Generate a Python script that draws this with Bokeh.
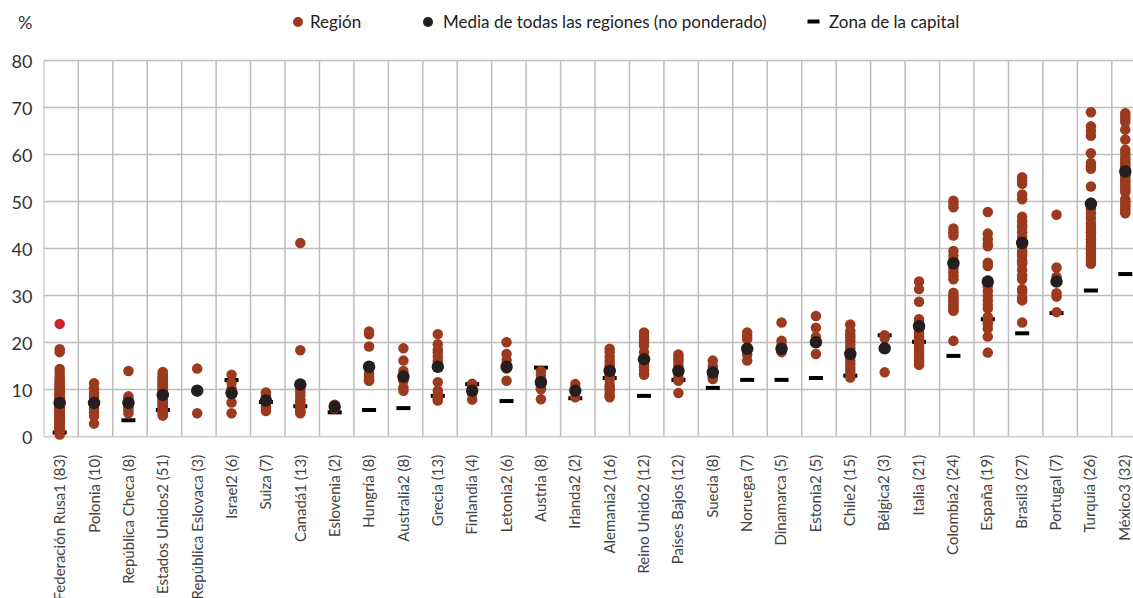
import math
from bokeh.plotting import figure
from bokeh.models import (Range1d, FixedTicker, Grid, Legend, LegendItem, Span)
from bokeh.core.properties import value
from bokeh.embed import file_html
from bokeh.resources import INLINE

countries = ["Federación Rusa1 (83)", "Polonia (10)", "República Checa (8)", "Estados Unidos2 (51)",
             "República Eslovaca (3)", "Israel2 (6)", "Suiza (7)", "Canadá1 (13)", "Eslovenia (2)",
             "Hungría (8)", "Australia2 (8)", "Grecia (13)", "Finlandia (4)", "Letonia2 (6)",
             "Austria (8)", "Irlanda2 (2)", "Alemania2 (16)", "Reino Unido2 (12)", "Países Bajos (12)",
             "Suecia (8)", "Noruega (7)", "Dinamarca (5)", "Estonia2 (5)", "Chile2 (15)",
             "Bélgica2 (3)", "Italia (21)", "Colombia2 (24)", "España (19)", "Brasil3 (27)",
             "Portugal (7)", "Turquía (26)", "México3 (32)"]

region_values = [
    [18.6, 18.0, 14.4, 13.6, 12.8, 12.2, 11.8, 11.4, 11.0, 10.8, 10.5, 10.2, 10.0, 9.8, 9.5, 9.3,
     9.1, 8.9, 8.7, 8.5, 8.3, 8.1, 8.0, 7.8, 7.6, 7.5, 7.3, 7.2, 7.0, 6.9, 6.7, 6.6, 6.4, 6.3,
     6.1, 6.0, 5.9, 5.7, 5.6, 5.5, 5.3, 5.2, 5.0, 4.9, 4.8, 4.6, 4.5, 4.4, 4.2, 4.1, 4.0, 3.8,
     3.7, 3.6, 3.4, 3.3, 3.1, 3.0, 2.9, 2.7, 2.6, 2.4, 2.3, 2.1, 2.0, 1.8, 1.7, 1.5, 1.4, 1.2,
     1.1, 0.9, 0.8, 0.6, 0.5, 6.8, 7.4, 8.2, 5.4, 4.3, 3.5, 9.0],
    [11.4, 10.3, 9.3, 8.5, 7.6, 6.8, 6.0, 5.2, 4.4, 2.8],
    [14.0, 8.6, 8.0, 7.4, 6.8, 6.2, 5.6, 5.0],
    [13.8, 13.4, 13.2, 12.9, 12.7, 12.5, 12.2, 12.0, 11.9, 11.6, 11.5, 11.2, 11.1, 10.8, 10.7, 10.4,
     10.3, 10.0, 9.9, 9.6, 9.5, 9.2, 9.1, 8.8, 8.7, 8.4, 8.3, 8.0, 7.9, 7.6, 7.5, 7.2, 7.1, 6.8,
     6.7, 6.4, 6.3, 6.0, 5.9, 5.6, 5.5, 5.2, 5.1, 4.9, 4.7, 4.5, 9.0, 8.1, 10.1, 11.0, 12.1],
    [14.5, 9.9, 5.0],
    [13.2, 11.5, 10.3, 9.0, 7.3, 5.0],
    [9.4, 8.8, 8.0, 7.5, 7.0, 6.3, 5.5],
    [41.2, 18.4, 10.2, 9.5, 8.8, 8.0, 7.5, 7.0, 6.5, 6.0, 5.5, 5.0, 5.2],
    [6.8, 6.0],
    [22.4, 21.8, 19.2, 13.4, 12.8, 12.3, 11.9, 12.0],
    [18.8, 16.2, 14.0, 13.0, 12.3, 11.9, 10.5, 9.8],
    [21.8, 19.7, 18.5, 17.9, 17.0, 16.2, 15.0, 11.6, 9.8, 9.0, 8.5, 8.0, 7.7],
    [11.3, 10.8, 9.2, 7.9],
    [20.1, 17.6, 16.3, 15.0, 14.5, 11.9],
    [14.0, 13.0, 12.2, 11.5, 11.0, 10.5, 10.1, 8.0],
    [11.2, 8.4],
    [18.7, 18.0, 17.0, 16.2, 15.5, 15.0, 14.5, 13.5, 13.0, 12.6, 12.2, 11.0, 10.5, 9.8, 9.0, 8.4],
    [22.2, 21.3, 20.5, 20.0, 19.4, 18.0, 16.3, 15.5, 15.0, 14.2, 13.5, 13.2],
    [17.5, 17.0, 16.5, 16.0, 15.2, 14.5, 14.0, 13.5, 12.6, 12.2, 11.9, 9.3],
    [16.2, 15.0, 14.2, 13.8, 13.5, 13.0, 12.5, 12.3],
    [22.2, 21.5, 20.8, 19.0, 18.5, 17.5, 16.2],
    [24.3, 20.4, 19.5, 18.3, 18.0],
    [25.7, 23.2, 21.2, 20.0, 17.6],
    [23.9, 22.5, 21.7, 21.0, 20.3, 19.5, 18.8, 18.0, 17.0, 16.2, 15.5, 14.7, 14.0, 13.3, 12.6],
    [21.6, 21.0, 13.7],
    [33.0, 31.4, 28.7, 25.0, 24.2, 23.5, 22.8, 22.0, 21.5, 21.0, 20.5, 20.0, 19.5, 19.0, 18.5,
     18.0, 17.3, 16.8, 16.2, 15.8, 15.3],
    [50.2, 49.5, 48.8, 44.3, 43.5, 42.8, 39.5, 38.5, 37.5, 36.5, 35.8, 35.0, 34.2, 33.5, 30.6,
     30.0, 29.5, 29.0, 28.5, 28.0, 27.5, 27.0, 26.8, 20.4],
    [47.8, 43.2, 42.0, 41.0, 40.5, 37.0, 36.3, 32.0, 31.0, 30.0, 29.0, 28.0, 27.3, 25.5, 24.5,
     24.0, 23.0, 21.3, 17.9],
    [55.2, 54.5, 53.8, 51.5, 50.5, 46.8, 45.8, 45.0, 44.5, 43.5, 42.5, 41.5, 40.5, 39.5, 38.5,
     37.5, 36.8, 35.5, 34.3, 33.5, 31.4, 30.8, 29.6, 29.0, 24.3, 37.0, 39.0],
    [47.2, 36.0, 34.0, 33.2, 30.5, 29.8, 26.5],
    [69.0, 66.0, 65.0, 64.0, 60.3, 58.2, 57.5, 57.0, 53.2, 49.8, 48.5, 47.5, 46.5, 45.5, 45.0,
     44.2, 43.5, 42.8, 42.0, 41.2, 40.5, 39.8, 39.0, 38.2, 37.5, 36.8],
    [68.8, 68.2, 67.5, 66.9, 65.3, 63.2, 61.0, 60.3, 59.5, 59.0, 58.0, 57.5, 57.0, 56.5, 56.0,
     55.5, 55.0, 54.5, 54.0, 53.5, 53.0, 52.5, 52.0, 50.5, 50.0, 49.5, 49.0, 48.5, 48.0, 47.5,
     58.5, 55.8],
]

highlight_country = ["Federación Rusa1 (83)"]
highlight_values = [24.0]

means = [7.2, 7.2, 7.2, 8.9, 9.8, 9.3, 7.7, 11.1, 6.4, 14.9, 12.8, 14.9, 9.8, 14.9, 11.6, 9.8,
         14.0, 16.5, 14.0, 13.7, 18.7, 18.7, 20.1, 17.6, 18.8, 23.5, 36.9, 33.0, 41.2, 33.0,
         49.5, 56.4]

capitals = [0.9, None, 3.5, 5.7, None, 12.1, 7.4, 6.5, 5.2, 5.7, 6.1, 8.7, 11.2, 7.6, 14.7, 8.2,
            12.5, 8.7, 12.1, 10.4, 12.1, 12.1, 12.5, 13.0, 21.6, 20.2, 17.2, 25.0, 22.0, 26.3,
            31.1, 34.6]

y_ticks = [0, 10, 20, 30, 40, 50, 60, 70, 80]
y_unit_label = "%"

FONT = "Lato"
REGION_COLOR = "#9b3a1e"
HIGHLIGHT_COLOR = "#cc2229"
MEAN_COLOR = "#231f20"
GRID_COLOR = "#bdbdbd"
COL_PX = 34.45          # pixel width of one country column

W, H = 1133, 598
BL = 43
ZERO_Y, TOP_Y = 436.3, 60.0     # pixel rows of 0 % and 80 %
PX_PER_UNIT = (ZERO_Y - TOP_Y) / y_ticks[-1]
y_top = ZERO_Y / PX_PER_UNIT
y_bot = -(H - ZERO_Y) / PX_PER_UNIT
unit_tick = round((ZERO_Y - 22) / PX_PER_UNIT, 2)
label_y = -18 / PX_PER_UNIT

n = len(countries)
# the marks sit slightly left of each column's centre, more so to the right
pos = {c: i + 0.46 - 0.0022 * i for i, c in enumerate(countries)}
label_x = [i + 0.45 - 0.0035 * i for i in range(n)]

rx, ry = [], []
for c, vals in zip(countries, region_values):
    for v in vals:
        rx.append(pos[c]); ry.append(v)
hx = [pos[c] for c in highlight_country]
mx = [pos[c] for c in countries]
cx = [pos[c] for c, v in zip(countries, capitals) if v is not None]
cy = [v for v in capitals if v is not None]

frame_w = W - BL
p = figure(width=W, height=H, output_backend="svg", toolbar_location=None,
           x_range=Range1d(-0.01, frame_w / COL_PX - 0.01), y_range=Range1d(y_bot, y_top),
           x_axis_location=None,
           min_border_left=BL, min_border_right=0, min_border_top=0, min_border_bottom=0)
p.outline_line_color = None
p.background_fill_color = "white"
p.border_fill_color = "white"

# grid lines
p.center = [r for r in p.center if not isinstance(r, Grid)]
p.add_layout(Grid(dimension=1, ticker=FixedTicker(ticks=y_ticks[1:]),
                  grid_line_color=GRID_COLOR, grid_line_width=1.5))
col_edges = list(range(n + 1))
p.segment(x0=col_edges, y0=[y_ticks[0]] * len(col_edges), x1=col_edges,
          y1=[y_ticks[-1]] * len(col_edges), line_color=GRID_COLOR, line_width=1.5,
          level="underlay")
p.add_layout(Span(location=y_ticks[0], dimension="width", line_color="#d6d6d6",
                  line_width=2, level="underlay"))

# y axis
ay = p.yaxis[0]
ay.ticker = FixedTicker(ticks=y_ticks + [unit_tick])
ay.major_label_overrides = {unit_tick: y_unit_label}
ay.axis_line_color = None
ay.major_tick_line_color = None
ay.major_tick_out = 0
ay.major_tick_in = 0
ay.minor_tick_line_color = None
ay.minor_tick_out = 0
ay.major_label_standoff = 11
ay.major_label_text_font = FONT
ay.major_label_text_font_size = "18px"
ay.major_label_text_color = "#333333"

# country labels under the columns
p.text(x=label_x, y=[label_y] * n, text=countries, angle=math.pi / 2,
       text_align="right", text_baseline="middle", text_font=value(FONT),
       text_font_size=value("15px"), text_color="#444444")

r_cap = p.scatter(cx, cy, marker="dash", size=14, line_width=4, line_color="black")
r_reg = p.scatter(rx, ry, marker="circle", size=10.5, fill_color=REGION_COLOR, line_color=None)
p.scatter(hx, highlight_values, marker="circle", size=10.5, fill_color=HIGHLIGHT_COLOR, line_color=None)
r_mean = p.scatter(mx, means, marker="circle", size=12.5, fill_color=MEAN_COLOR, line_color=None)

def make_legend(label, rend, gsize, vx, vy, standoff):
    leg = Legend(items=[LegendItem(label=label, renderers=[rend])], location=(vx, vy),
                 glyph_width=gsize, glyph_height=gsize, padding=0, margin=0,
                 border_line_alpha=0, background_fill_alpha=0, label_standoff=standoff,
                 label_text_font=FONT, label_text_font_size="17px", label_text_color="#222222")
    p.add_layout(leg, "center")

make_legend("Región", r_reg, 25, 242, 564.5, -1)
make_legend("Media de todas las regiones (no ponderado)", r_mean, 25, 372, 564.5, 3)
make_legend("Zona de la capital", r_cap, 30, 755, 562, 1)

open("out.html", "w").write(file_html(p, INLINE))
